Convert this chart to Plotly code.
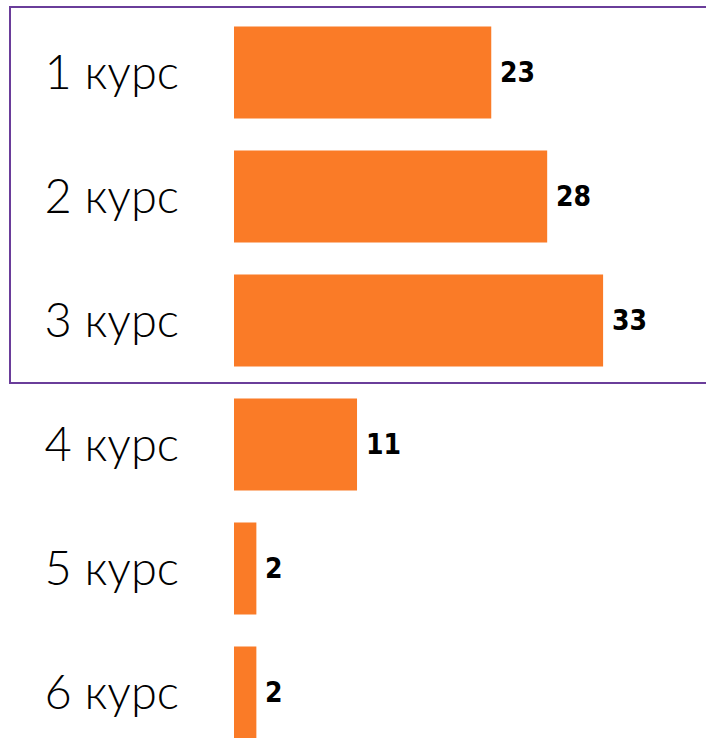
import plotly.graph_objects as go

categories = ["1 курс", "2 курс", "3 курс", "4 курс", "5 курс", "6 курс"]
values = [23, 28, 33, 11, 2, 2]

BAR_COLOR = "#FA7B27"
FRAME_COLOR = "#6A3D9A"

fig = go.Figure()
fig.add_trace(go.Bar(
    x=values,
    y=categories,
    orientation="h",
    marker=dict(color=BAR_COLOR, line=dict(width=0)),
    width=0.742,
    hoverinfo="skip",
))

for c, v in zip(categories, values):
    fig.add_annotation(
        x=v, y=c, xref="x", yref="y",
        text=str(v), showarrow=False,
        xanchor="left", yanchor="middle", xshift=7,
        font=dict(family="DejaVu Sans Condensed", size=28, color="#000000", weight="bold"),
    )

fig.add_shape(
    type="rect", xref="paper", yref="paper",
    x0=(10 - 234) / 472, x1=1.05,
    y0=1 - 383 / 738, y1=1 - 7 / 738,
    line=dict(color=FRAME_COLOR, width=2),
    fillcolor="rgba(0,0,0,0)",
    layer="below",
)

fig.update_layout(
    width=706, height=738,
    margin=dict(l=234, r=0, t=0, b=0),
    paper_bgcolor="white", plot_bgcolor="white",
    showlegend=False,
    xaxis=dict(range=[0, 42.2], visible=False, showgrid=False, zeroline=False),
    yaxis=dict(
        range=[5.367, -0.585],
        showgrid=False, zeroline=False, showline=False,
        ticks="", ticklabelstandoff=54,
        tickfont=dict(family="Lato", size=47, color="#000000", weight=300),
    ),
)

fig.write_html(
    "out.html",
    config={"displayModeBar": False},
    post_script="document.body.style.margin='0';document.body.style.overflow='hidden';",
)
